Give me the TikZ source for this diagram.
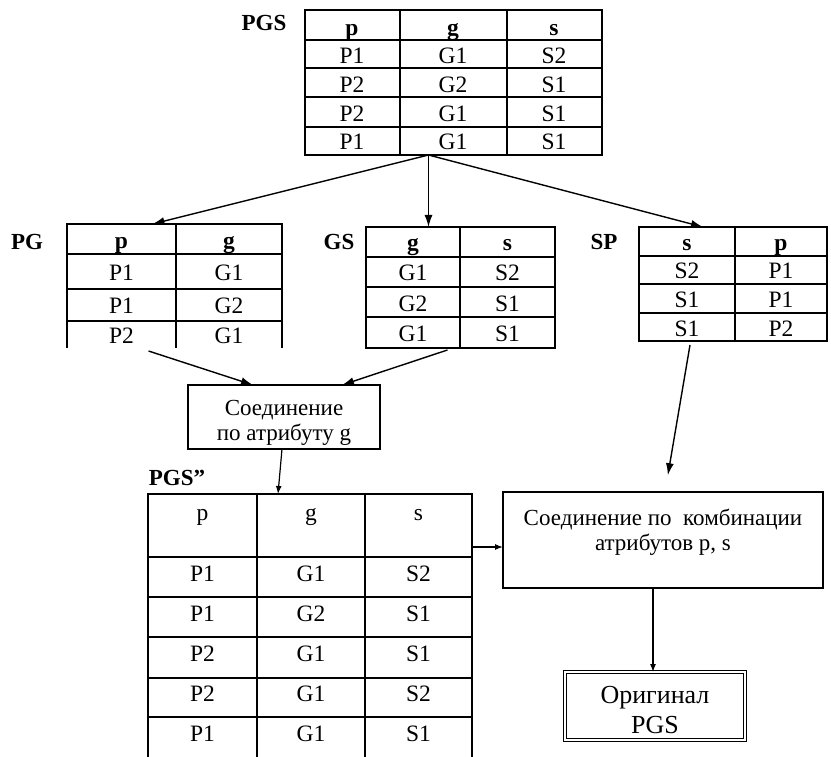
\documentclass[tikz,border=0pt]{standalone}
\usepackage{fontspec}
\setmainfont{Liberation Serif}
\usetikzlibrary{arrows.meta}
\begin{document}
\begin{tikzpicture}[x=1pt,y=-1pt,
  cell/.style={anchor=base, inner sep=0pt, font=\fontsize{23.5}{23.5}\selectfont},
  hcell/.style={cell, font=\fontsize{23.5}{23.5}\selectfont\bfseries},
  tlabel/.style={inner sep=0pt, font=\fontsize{23}{23}\selectfont\bfseries},
  area/.style={inner sep=0pt, outer sep=0pt, draw=none},
  rule/.style={line width=1.2pt},
  hrule/.style={line width=2.6pt},
  arr/.style={line width=1.4pt, -{Latex[length=12pt,width=8pt]}},
  sarr/.style={line width=1.2pt, -{Latex[length=8pt,width=6pt]}},
  box/.style={draw, line width=1.2pt, inner sep=0pt, outer sep=0pt},
  boxtext/.style={align=center, inner sep=0pt, font=\fontsize{23}{24.5}\selectfont},
  origtext/.style={align=center, inner sep=0pt, font=\fontsize{26}{30}\selectfont}
]
\useasboundingbox (0,0) rectangle (831,757);

% ---------------- PGS ----------------
\node[tlabel] (PGSlbl) at (264,23) {PGS};
\node[area, minimum width=297pt, minimum height=145pt] (PGS) at (453.5,82.5) {};
\draw[rule] (305,10) rectangle (602,155);
\draw[rule] (400,10) -- (400,155) (507,10) -- (507,155);
\foreach \yy in {40,68,97,127} \draw[rule] (305,\yy) -- (602,\yy);
\node[hcell] (PGS-h1) at (352,36) {p};
\node[hcell] (PGS-h2) at (453,36) {g};
\node[hcell] (PGS-h3) at (554,36) {s};
\foreach \a/\b/\c/\yy [count=\i] in {P1/G1/S2/64, P2/G2/S1/93, P2/G1/S1/122, P1/G1/S1/150} {
  \node[cell] (PGS-\i-1) at (352,\yy) {\a};
  \node[cell] (PGS-\i-2) at (453,\yy) {\b};
  \node[cell] (PGS-\i-3) at (554,\yy) {\c};
}

% ---------------- PG ----------------
\node[tlabel] (PGlbl) at (27,242) {PG};
\node[area, minimum width=215pt, minimum height=124pt] (PG) at (174.5,286) {};
\draw[rule] (67,348) -- (67,224) -- (282,224) -- (282,348);
\draw[rule] (176,224) -- (176,348);
\draw[hrule] (67,254) -- (282,254);
\draw[rule] (67,289) -- (282,289) (67,321) -- (282,321);
\node[hcell] (PG-h1) at (121.5,249) {p};
\node[hcell] (PG-h2) at (229,249) {g};
\foreach \a/\b/\yy [count=\i] in {P1/G1/280, P1/G2/313, P2/G1/343} {
  \node[cell] (PG-\i-1) at (121.5,\yy) {\a};
  \node[cell] (PG-\i-2) at (229,\yy) {\b};
}

% ---------------- GS ----------------
\node[tlabel] (GSlbl) at (339,242) {GS};
\node[area, minimum width=189pt, minimum height=121pt] (GS) at (460.5,287.5) {};
\draw[rule] (366,227) rectangle (555,348);
\draw[rule] (460,227) -- (460,348);
\draw[hrule] (366,257) -- (555,257);
\draw[rule] (366,287) -- (555,287) (366,317) -- (555,317);
\node[hcell] (GS-h1) at (413,251) {g};
\node[hcell] (GS-h2) at (507.5,251) {s};
\foreach \a/\b/\yy [count=\i] in {G1/S2/280, G2/S1/311, G1/S1/341} {
  \node[cell] (GS-\i-1) at (413,\yy) {\a};
  \node[cell] (GS-\i-2) at (507.5,\yy) {\b};
}

% ---------------- SP ----------------
\node[tlabel] (SPlbl) at (604,242) {SP};
\node[area, minimum width=188pt, minimum height=114pt] (SP) at (733,284) {};
\draw[rule] (639,227) rectangle (827,341);
\draw[rule] (735,227) -- (735,341);
\draw[hrule] (639,256) -- (827,256);
\draw[rule] (639,284) -- (827,284) (639,313) -- (827,313);
\node[hcell] (SP-h1) at (687,251) {s};
\node[hcell] (SP-h2) at (781,251) {p};
\foreach \a/\b/\yy [count=\i] in {S2/P1/279, S1/P1/308, S1/P2/336} {
  \node[cell] (SP-\i-1) at (687,\yy) {\a};
  \node[cell] (SP-\i-2) at (781,\yy) {\b};
}

% ---------------- Join 1 ----------------
\node[box, minimum width=192pt, minimum height=64pt] (J1) at (284,417) {};
\node[boxtext] (J1t) at (284,423) {Соединение\\по атрибуту g};

% ---------------- PGS'' ----------------
\node[tlabel] (PGS2lbl) at (177,478) {PGS”};
\node[area, minimum width=324pt, minimum height=263pt] (PGS2) at (310,625.5) {};
\draw[rule] (148,757) -- (148,494) -- (472,494) -- (472,757);
\draw[rule] (257,494) -- (257,757) (365,494) -- (365,757);
\draw[hrule] (148,557) -- (472,557);
\foreach \yy in {597,637,678,717} \draw[rule] (148,\yy) -- (472,\yy);
\node[cell] (PGS2-h1) at (202.5,520) {p};
\node[cell] (PGS2-h2) at (311,520) {g};
\node[cell] (PGS2-h3) at (418.5,520) {s};
\foreach \a/\b/\c/\yy [count=\i] in {P1/G1/S2/581, P1/G2/S1/621, P2/G1/S1/661, P2/G1/S2/701, P1/G1/S1/741} {
  \node[cell] (PGS2-\i-1) at (202.5,\yy) {\a};
  \node[cell] (PGS2-\i-2) at (311,\yy) {\b};
  \node[cell] (PGS2-\i-3) at (418.5,\yy) {\c};
}

% ---------------- Join 2 ----------------
\node[box, minimum width=320pt, minimum height=96pt] (J2) at (663,540) {};
\node[boxtext] (J2t) at (663,532) {Соединение по\ \ комбинации\\атрибутов p, s};

% ---------------- Original ----------------
\node[draw, double, line width=1.1pt, double distance=2.2pt, inner sep=0pt, outer sep=0pt,
      minimum width=180pt, minimum height=68pt] (OR) at (655,706) {};
\node[origtext] (ORt) at (655,710) {Оригинал\\PGS};

% ---------------- connectors ----------------
\draw[arr] ([xshift=-25pt]PGS.south) -- ([xshift=-22pt]PG.north);
\draw[arr] ([xshift=-25pt]PGS.south) -- ([xshift=-32pt]GS.north);
\draw[arr] ([xshift=-25pt]PGS.south) -- ([xshift=-30pt]SP.north);
\draw[arr] ([xshift=-26pt,yshift=-3pt]PG.south) -- ([xshift=-31pt]J1.north);
\draw[arr] ([xshift=-13pt,yshift=-2pt]GS.south) -- ([xshift=58pt]J1.north);
\draw[sarr] ([xshift=-2pt]J1.south) -- ([xshift=-32pt]PGS2.north);
\draw[sarr] ([yshift=78.5pt]PGS2.east) -- ([yshift=-7pt]J2.west);
\draw[arr, shorten >=17pt] ([xshift=-43pt,yshift=-4pt]SP.south) -- ([xshift=2pt]J2.north);
\draw[sarr] ([xshift=-10pt]J2.south) -- ([xshift=-2pt]OR.north);
\end{tikzpicture}
\end{document}
